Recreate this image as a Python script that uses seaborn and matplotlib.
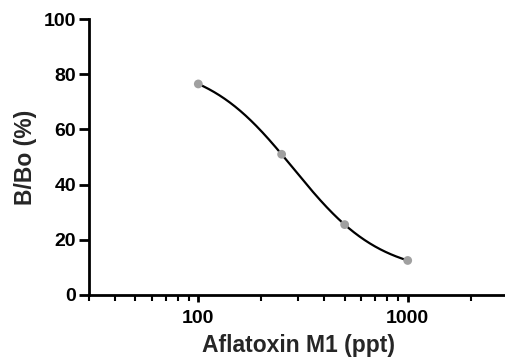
import numpy as np
import pandas as pd
import seaborn as sns
from matplotlib import pyplot as plt
from matplotlib.ticker import LogLocator, FixedLocator, NullFormatter, FixedFormatter

# standard curve points
conc = [100, 250, 500, 1000]          # Aflatoxin M1 (ppt)
b_bo = [76.5, 51.0, 25.5, 12.5]       # B/Bo (%)


def four_pl(p, lx):
    bottom, top, lc, hill = p
    return bottom + (top - bottom) / (1 + 10 ** (hill * (lx - lc)))


def fit_4pl(x, y, n_iter=300):
    """Simple Levenberg-Marquardt fit of a 4PL curve in log10(x)."""
    lx = np.log10(np.asarray(x, float))
    y = np.asarray(y, float)
    p = np.array([5.0, 95.0, np.log10(300), 1.2])
    lam = 1e-2
    for _ in range(n_iter):
        r = y - four_pl(p, lx)
        J = np.zeros((len(lx), len(p)))
        for k in range(len(p)):
            dp = np.zeros_like(p)
            dp[k] = 1e-6 * max(1.0, abs(p[k]))
            J[:, k] = (four_pl(p + dp, lx) - four_pl(p, lx)) / dp[k]
        A = J.T @ J
        g = J.T @ r
        step = np.linalg.solve(A + lam * np.diag(np.diag(A) + 1e-9), g)
        p_new = p + step
        if np.sum((y - four_pl(p_new, lx)) ** 2) < np.sum(r ** 2):
            p = p_new
            lam *= 0.5
        else:
            lam *= 4
    return p


params = fit_4pl(conc, b_bo)
x_fit = np.logspace(np.log10(conc[0]), np.log10(conc[-1]), 200)
fit_df = pd.DataFrame({'conc': x_fit, 'b_bo': four_pl(params, np.log10(x_fit))})
pts_df = pd.DataFrame({'conc': conc, 'b_bo': b_bo})

sns.set_style('ticks')
plt.rcParams['font.family'] = ['Liberation Sans', 'DejaVu Sans']
plt.rcParams['font.weight'] = 'bold'

fig = plt.figure(figsize=(5.06, 3.61), dpi=100)
ax = fig.add_axes([0.1755, 0.183, 0.8277, 0.764])

sns.lineplot(data=fit_df, x='conc', y='b_bo', color='black', linewidth=1.6, ax=ax, zorder=2)
sns.scatterplot(data=pts_df, x='conc', y='b_bo', color='#a0a0a0', s=40, edgecolor='none', ax=ax, zorder=3)

ax.set_xscale('log')
ax.set_xlim(30, 3000)
ax.set_ylim(0, 100)
ax.set_yticks([0, 20, 40, 60, 80, 100])
ax.xaxis.set_major_locator(FixedLocator([100, 1000]))
ax.xaxis.set_major_formatter(FixedFormatter(['100', '1000']))
ax.xaxis.set_minor_locator(LogLocator(base=10, subs=np.arange(2, 10)))
ax.xaxis.set_minor_formatter(NullFormatter())

for side in ['top', 'right']:
    ax.spines[side].set_visible(False)
for side in ['left', 'bottom']:
    ax.spines[side].set_linewidth(2)
    ax.spines[side].set_color('black')

ax.tick_params(axis='y', which='major', length=7, width=2, colors='black',
               labelsize=14, pad=2)
ax.tick_params(axis='x', which='major', length=5, width=2, colors='black',
               labelsize=14, pad=6)
ax.tick_params(axis='x', which='minor', length=4, width=1.5, colors='black')
for lab in ax.get_xticklabels() + ax.get_yticklabels():
    lab.set_fontweight('bold')

ax.set_xlabel('Aflatoxin M1 (ppt)', fontsize=16.5, fontweight='bold', labelpad=5)
ax.set_ylabel('B/Bo (%)', fontsize=16.5, fontweight='bold', labelpad=5)

fig.savefig('out.png', dpi=100)
